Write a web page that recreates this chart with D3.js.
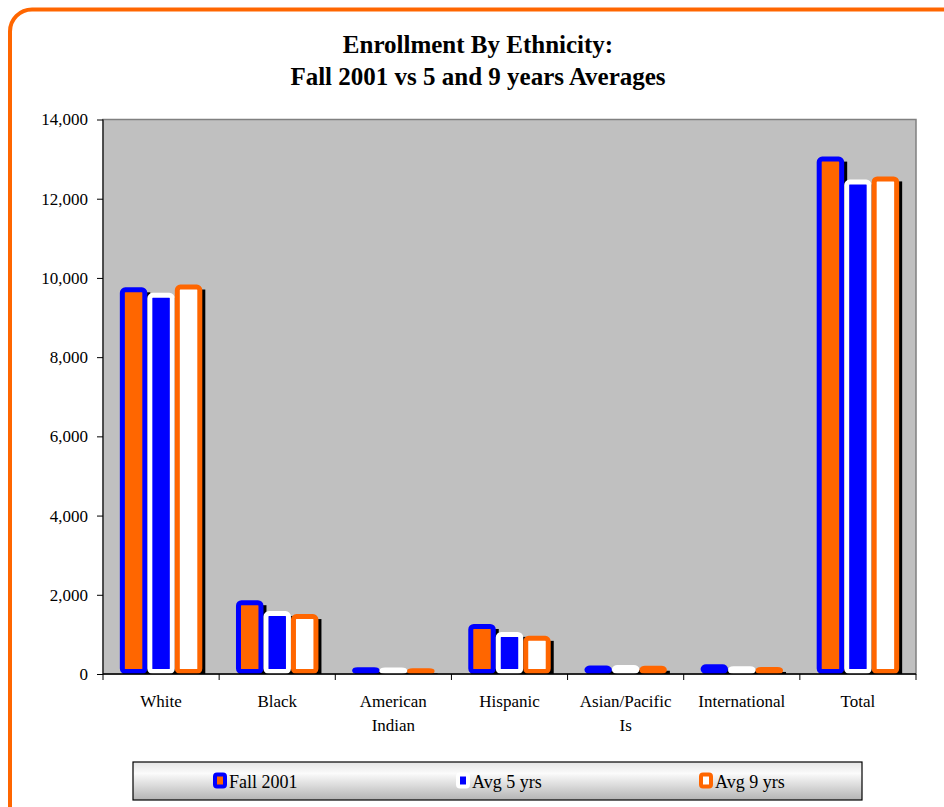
<!DOCTYPE html>
<html>
<head>
<meta charset="utf-8">
<script src="https://cdn.jsdelivr.net/npm/d3@7"></script>
<style>
  body { margin: 0; background: #fff; }
  svg text { font-family: "Liberation Serif", "Times New Roman", serif; fill: #000; }
</style>
</head>
<body>
<div id="chart"></div>
<script>
// chart values
var categories = ["White", "Black", "American Indian", "Hispanic", "Asian/Pacific Is", "International", "Total"];
var catLines = [["White"], ["Black"], ["American", "Indian"], ["Hispanic"], ["Asian/Pacific", "Is"], ["International"], ["Total"]];
var seriesNames = ["Fall 2001", "Avg 5 yrs", "Avg 9 yrs"];
var fall2001 = [9700, 1800, 110, 1200, 150, 185, 13000];
var avg5 = [9560, 1525, 100, 1000, 165, 135, 12420];
var avg9 = [9770, 1450, 80, 900, 145, 115, 12500];
var yTicks = [0, 2000, 4000, 6000, 8000, 10000, 12000, 14000];

var seriesValues = [fall2001, avg5, avg9];
var fills = ["#FF6600", "#0000FF", "#FFFFFF"];
var strokes = ["#0000FF", "#FFFFFF", "#FF6600"];

var width = 944, height = 807;
var margin = { top: 119.5, right: 28, bottom: 133, left: 103 };

var svg = d3.select("#chart")
  .append("svg")
  .attr("width", width)
  .attr("height", height);

var defs = svg.append("defs");
var grad = defs.append("linearGradient")
  .attr("id", "legendGrad")
  .attr("x1", 0).attr("y1", 0).attr("x2", 0).attr("y2", 1);
grad.append("stop").attr("offset", "0%").attr("stop-color", "#e4e4e4");
grad.append("stop").attr("offset", "30%").attr("stop-color", "#fbfbfb");
grad.append("stop").attr("offset", "100%").attr("stop-color", "#b4b4b4");

// orange rounded frame (runs off the right and bottom)
svg.append("rect")
  .attr("x", 10).attr("y", 9.5)
  .attr("width", 980).attr("height", 840)
  .attr("rx", 22).attr("ry", 22)
  .attr("fill", "none")
  .attr("stroke", "#FF6600")
  .attr("stroke-width", 4);

// title
svg.append("text")
  .attr("x", 478).attr("y", 53)
  .attr("text-anchor", "middle")
  .style("font-size", "25px").style("font-weight", "bold")
  .text("Enrollment By Ethnicity:");
svg.append("text")
  .attr("x", 478).attr("y", 85)
  .attr("text-anchor", "middle")
  .style("font-size", "25px").style("font-weight", "bold")
  .text("Fall 2001 vs 5 and 9 years Averages");

var x0 = width - margin.right, y0 = height - margin.bottom;

var xScale = d3.scaleBand()
  .domain(categories)
  .range([margin.left, x0])
  .paddingInner(0.29)
  .paddingOuter(0.145);

var xInner = d3.scaleBand()
  .domain(seriesNames)
  .range([0, xScale.bandwidth()]);

var yScale = d3.scaleLinear()
  .domain([0, 14000])
  .range([y0, margin.top]);

// plot area
svg.append("rect")
  .attr("x", margin.left).attr("y", margin.top)
  .attr("width", x0 - margin.left).attr("height", y0 - margin.top)
  .attr("fill", "#C0C0C0")
  .attr("stroke", "#808080")
  .attr("stroke-width", 1.5);

var table = [];
seriesValues.forEach(function(vals, s) {
  vals.forEach(function(v, i) {
    table.push({ s: s, cat: categories[i], value: v });
  });
});

var sw = 5;
// shadows first
svg.append("g").selectAll("rect")
  .data(table)
  .enter()
  .append("rect")
  .attr("x", function(d) { return xScale(d.cat) + xInner(seriesNames[d.s]) + 3; })
  .attr("y", function(d) { return yScale(d.value) - sw / 2 + 5; })
  .attr("width", xInner.bandwidth())
  .attr("height", function(d) { return Math.max(0, y0 - (yScale(d.value) - sw / 2 + 5)); })
  .attr("fill", "#000");

svg.append("g").selectAll("rect")
  .data(table)
  .enter()
  .append("rect")
  .attr("x", function(d) { return xScale(d.cat) + xInner(seriesNames[d.s]) + sw / 2; })
  .attr("y", function(d) { return yScale(d.value); })
  .attr("width", xInner.bandwidth() - sw)
  .attr("height", function(d) { return Math.max(0.1, y0 - yScale(d.value) - sw / 2); })
  .attr("rx", 3).attr("ry", 3)
  .attr("fill", function(d) { return fills[d.s]; })
  .attr("stroke", function(d) { return strokes[d.s]; })
  .attr("stroke-width", sw);

// y axis
var yAxis = d3.axisLeft(yScale)
  .tickValues(yTicks)
  .tickSize(6)
  .tickPadding(9)
  .tickFormat(d3.format(","));
var yg = svg.append("g")
  .attr("transform", "translate(" + margin.left + ",0)")
  .call(yAxis);
yg.selectAll("text").style("font-size", "17px");
yg.selectAll("line, path").attr("stroke", "#000");
yg.select(".domain").attr("d", "M0," + margin.top + "V" + y0);

// x axis: ticks at category boundaries
var xg = svg.append("g");
xg.append("line")
  .attr("x1", margin.left).attr("x2", x0)
  .attr("y1", y0).attr("y2", y0)
  .attr("stroke", "#000").attr("stroke-width", 1.5);
var step = xScale.step();
var bounds = d3.range(categories.length + 1).map(function(i) {
  return margin.left + i * step;
});
xg.selectAll(".tk")
  .data(bounds)
  .enter()
  .append("line")
  .attr("x1", function(d) { return d; }).attr("x2", function(d) { return d; })
  .attr("y1", y0).attr("y2", y0 + 6)
  .attr("stroke", "#000");

var labels = xg.selectAll(".lab")
  .data(categories)
  .enter()
  .append("text")
  .attr("text-anchor", "middle")
  .style("font-size", "17px");
labels.each(function(d, i) {
  var t = d3.select(this);
  catLines[i].forEach(function(line, j) {
    t.append("tspan")
      .attr("x", xScale(d) + xScale.bandwidth() / 2)
      .attr("y", y0 + 33 + j * 24)
      .text(line);
  });
});

// legend
var lg = svg.append("g");
lg.append("rect")
  .attr("x", 133).attr("y", 762)
  .attr("width", 729).attr("height", 38)
  .attr("fill", "url(#legendGrad)")
  .attr("stroke", "#000")
  .attr("stroke-width", 1.2);
var legendX = [213, 456, 699];
seriesNames.forEach(function(name, s) {
  lg.append("rect")
    .attr("x", legendX[s] + 2).attr("y", 774.5)
    .attr("width", 10).attr("height", 12)
    .attr("rx", 2).attr("ry", 2)
    .attr("fill", fills[s])
    .attr("stroke", strokes[s])
    .attr("stroke-width", 4);
  lg.append("text")
    .attr("x", legendX[s] + 16).attr("y", 788)
    .style("font-size", "18px")
    .text(name);
});
</script>
</body>
</html>
